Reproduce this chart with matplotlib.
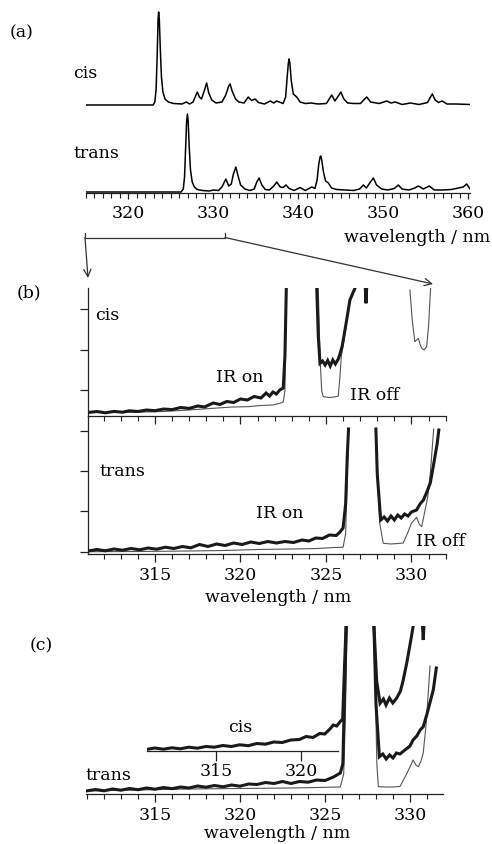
import numpy as np
import matplotlib
matplotlib.use("Agg")
import matplotlib.pyplot as plt
from matplotlib.ticker import MultipleLocator, FixedLocator

plt.rcParams['font.family'] = ['DejaVu Serif']
FS = 12.5
NAN = np.nan

# ---------------- data (wavelength nm, intensity arb.) ----------------
# (a) survey spectra
cis_a = [(315, 0), (322.9, 0), (323.1, 3), (323.25, 15), (323.38, 50), (323.48, 85),
         (323.55, 93), (323.63, 85), (323.75, 55), (323.88, 28), (324.05, 13), (324.3, 6),
         (324.7, 3), (325.3, 1.5), (326.3, 1), (326.8, 3), (327.2, 1), (327.6, 3),
         (327.9, 9), (328.1, 13), (328.35, 8), (328.6, 6), (328.95, 15), (329.2, 22),
         (329.45, 12), (329.8, 5), (330.3, 2), (331.0, 3), (331.45, 10), (331.8, 19),
         (331.96, 21), (332.2, 14), (332.6, 6), (333.0, 3), (333.6, 2), (334.1, 8),
         (334.5, 4.5), (334.9, 6), (335.3, 2.5), (336.0, 1), (336.7, 4), (337.1, 2),
         (337.45, 4), (337.75, 3), (338.2, 1.5), (338.5, 8), (338.7, 30), (338.82, 42),
         (338.9, 46), (339.0, 42), (339.15, 25), (339.4, 11), (339.8, 8), (340.2, 3),
         (340.8, 1.5), (341.5, 2), (342.3, 1), (343.3, 1.5), (343.7, 7), (343.93, 10),
         (344.3, 4), (344.7, 9), (345.0, 13), (345.35, 6), (345.8, 2), (346.5, 1.5),
         (347.3, 1.5), (347.8, 6), (348.05, 8), (348.5, 3), (349.5, 1.5), (350.4, 4),
         (350.9, 2), (351.4, 3), (352.2, 0.5), (353.2, 2), (354.2, 0.5), (355.2, 2.5),
         (355.55, 8), (355.76, 11), (356.1, 5), (356.5, 2.5), (356.9, 4), (357.5, 1),
         (358.5, 1), (360.2, 0.5)]
trans_a = [(315, 0), (326.2, 0), (326.45, 3), (326.6, 15), (326.73, 45), (326.84, 70),
           (326.94, 78), (327.03, 70), (327.15, 45), (327.3, 22), (327.5, 10), (327.75, 5),
           (328.1, 2.5), (328.7, 1.5), (329.5, 1), (330.0, 2), (330.6, 1.5), (331.0, 5),
           (331.46, 13), (331.8, 6), (332.1, 8), (332.35, 18), (332.64, 25), (332.9, 16),
           (333.2, 7), (333.7, 3), (334.3, 1.5), (334.8, 3), (335.1, 10), (335.38, 14),
           (335.7, 7), (336.1, 2.5), (336.6, 2), (337.1, 6), (337.46, 10), (337.85, 5),
           (338.2, 4.5), (338.55, 7), (338.9, 3.5), (339.5, 1.5), (340.2, 4.5), (340.8, 1.5),
           (341.58, 5), (341.95, 3.5), (342.2, 12), (342.4, 28), (342.55, 35), (342.64, 36),
           (342.75, 32), (342.95, 20), (343.2, 11), (343.53, 9), (343.9, 4), (344.5, 2.5),
           (345.5, 2), (346.5, 1.5), (347.2, 3), (347.65, 7), (348.0, 4), (348.4, 9),
           (348.82, 14), (349.2, 7), (349.8, 3), (350.5, 2), (351.3, 3.5), (351.76, 7),
           (352.2, 3), (353.0, 2), (353.7, 4), (354.12, 6), (354.7, 3), (355.41, 6),
           (356.0, 2), (357.0, 2), (358.0, 2.5), (359.4, 5), (359.81, 8), (360.2, 3)]
CIS_OFFSET_A = 87

# (b) cis, IR off / IR on
cis_b_off = [(311.1, 3.5), (312.5, 3.5), (314, 3.8), (315.5, 4.5), (317, 6), (318.4, 7.7),
             (319.5, 9), (320.4, 9.3), (321.2, 10.5), (321.9, 11), (322.3, 12.7), (322.5, 14),
             (322.6, 25), (322.68, 128), (NAN, NAN),
             (324.55, 128), (324.65, 60), (324.75, 25), (324.84, 19.3), (325.2, 18.5),
             (325.5, 19), (325.72, 20), (325.82, 40), (325.9, 60), (326.0, 70), (326.2, 92),
             (326.4, 114), (326.7, 128), (NAN, NAN),
             (329.91, 126), (330.05, 95), (330.2, 74.3), (330.4, 77.7), (330.5, 72),
             (330.6, 67.7), (330.73, 66), (330.89, 69.3), (331.0, 90), (331.12, 128)]
cis_b_on = [(311.1, 3.5), (311.6, 4.5), (312.1, 3.2), (312.6, 4.6), (313.1, 3.8), (313.5, 5.2),
            (314, 4.5), (314.5, 6), (315, 5.3), (315.5, 7), (316, 6.4), (316.5, 8.5),
            (317, 7.6), (317.5, 10), (317.9, 9), (318.4, 13), (318.8, 11.5), (319.2, 14.5),
            (319.6, 13.5), (320, 17), (320.4, 16), (320.8, 19.5), (321.2, 18), (321.5, 23),
            (321.7, 20), (321.9, 24), (322.1, 22), (322.3, 26), (322.5, 28), (322.6, 60),
            (322.68, 128), (NAN, NAN),
            (324.46, 128), (324.55, 80), (324.65, 52.7), (324.8, 55), (324.95, 51),
            (325.1, 55.5), (325.25, 50), (325.4, 56), (325.55, 52), (325.72, 57),
            (325.82, 62), (325.95, 70), (326.01, 76), (326.2, 95), (326.4, 116),
            (326.7, 128), (NAN, NAN), (327.3, 128), (327.34, 112.7), (327.38, 128)]

# (b) trans, IR off / IR on
trans_b_off = [(311.1, 2.3), (314, 2.5), (317, 3), (319, 3.5), (321, 4.5), (323, 5),
               (324.5, 5.5), (325.5, 6.5), (326.0, 6.7), (326.15, 20), (326.25, 80),
               (326.32, 125), (NAN, NAN),
               (327.92, 125), (328.0, 80), (328.15, 30), (328.35, 10.7), (328.8, 10),
               (329.2, 10.5), (329.52, 11), (329.8, 22), (330.0, 30.7), (330.3, 36.7),
               (330.45, 30), (330.6, 27.3), (330.75, 40), (330.95, 57), (331.1, 80),
               (331.3, 125)]
trans_b_on = [(311.1, 3), (311.6, 4.5), (312.1, 3.2), (312.6, 5), (313.1, 3.8), (313.6, 5.5),
              (314.1, 4.2), (314.6, 6), (315.1, 4.8), (315.6, 6.8), (316.1, 5.5), (316.6, 7.5),
              (317.1, 6.2), (317.6, 9.5), (318.1, 7.5), (318.6, 10), (319.1, 8.5),
              (319.6, 11), (320.1, 9.5), (320.6, 12), (321.1, 10.5), (321.6, 12.5),
              (322.1, 11), (322.6, 12.5), (323.1, 11.5), (323.6, 14), (324.0, 13),
              (324.4, 16), (324.8, 15.5), (325.2, 19), (325.6, 18.5), (325.82, 22),
              (326.0, 26), (326.15, 50), (326.25, 100), (326.32, 125), (NAN, NAN),
              (327.92, 125), (328.0, 80), (328.2, 34), (328.4, 37), (328.6, 33), (328.8, 38),
              (329.0, 34), (329.2, 39), (329.4, 36), (329.6, 40), (329.8, 38), (330.0, 42),
              (330.3, 44), (330.5, 50), (330.7, 54), (330.9, 62), (331.1, 71), (331.3, 90),
              (331.5, 110), (331.6, 124)]

# (c) trans IR off / IR on, and cis IR on (own shifted axis)
trans_c_off = [(310.94, 3), (314, 4), (317, 5), (320, 5.5), (323, 6), (324.5, 6.5),
               (325.9, 7), (326.1, 20), (326.2, 80), (326.3, 168), (NAN, NAN),
               (327.88, 168), (327.98, 90), (328.05, 30), (328.14, 7.3), (328.6, 7),
               (329.0, 7), (329.41, 7.5), (329.8, 20), (330.1, 30.7), (330.18, 34),
               (330.35, 29), (330.49, 27.3), (330.65, 33), (330.78, 41), (330.95, 70),
               (331.18, 128)]
trans_c_on = [(310.94, 3), (311.5, 4.5), (312, 3.2), (312.5, 5), (313, 3.8), (313.5, 5.5),
              (314, 4.3), (314.5, 6), (315, 4.8), (315.5, 6.5), (316, 5.3), (316.5, 7),
              (317, 6), (317.5, 8), (318, 6.8), (318.5, 8.5), (319, 7.2), (319.5, 9),
              (320, 7.8), (320.5, 10), (321, 9.5), (321.5, 11.5), (322, 10.5), (322.5, 12.5),
              (323, 10.5), (323.5, 12.5), (324, 11.8), (324.5, 14), (325, 13.5), (325.5, 17),
              (325.9, 21), (326.05, 30), (326.15, 100), (326.25, 168), (NAN, NAN),
              (327.88, 168), (328.0, 90), (328.2, 37.3), (328.4, 40), (328.6, 35),
              (328.8, 39), (329.0, 36), (329.2, 41), (329.41, 40), (329.7, 44), (330.0, 48),
              (330.18, 54), (330.4, 58), (330.6, 64), (330.78, 67.3), (331.0, 80),
              (331.37, 104), (331.55, 126)]
cis_c_on = [(310.94, 1.7), (311.4, 3), (311.9, 1.8), (312.4, 3.2), (312.9, 2.2), (313.4, 3.8),
            (313.9, 2.8), (314.4, 4.5), (314.9, 3.8), (315.4, 5.5), (315.9, 4.5), (316.4, 6.2),
            (316.9, 5.3), (317.4, 7.5), (317.9, 6.8), (318.4, 9), (318.9, 8.5), (319.4, 11),
            (319.9, 11.5), (320.3, 14.5), (320.7, 13.5), (321.1, 17.5), (321.4, 17),
            (321.7, 22), (321.9, 26), (322.1, 25), (322.3, 29.3), (322.45, 32), (322.55, 80),
            (322.65, 125), (NAN, NAN),
            (324.29, 125), (324.45, 70), (324.65, 47.7), (324.85, 52), (325.0, 46),
            (325.2, 53), (325.4, 48), (325.63, 53), (325.85, 60), (326.0, 70), (326.22, 88),
            (326.45, 110), (326.6, 125), (NAN, NAN), (327.15, 125), (327.19, 111),
            (327.23, 125)]

ticks_a = [320, 330, 340, 350, 360]
ticks_bc = [315, 320, 325, 330]
ticks_c_cis = [315, 320]

# ---------------- figure ----------------
W, H = 492, 844
fig = plt.figure(figsize=(W / 100, H / 100), dpi=100)


def px_axes(l, t, r, b):
    return fig.add_axes([l / W, 1 - b / H, (r - l) / W, (b - t) / H])


def xy(d):
    a = np.array(d, dtype=float)
    return a[:, 0], a[:, 1]


def style(ax, left=False, labels=True):
    for s in ['top', 'right']:
        ax.spines[s].set_visible(False)
    ax.spines['left'].set_visible(left)
    for s in ['left', 'bottom']:
        ax.spines[s].set_linewidth(0.9)
        ax.spines[s].set_color('#222222')
    ax.patch.set_visible(False)
    ax.tick_params(axis='x', which='major', direction='out', length=5.5, width=0.9,
                   pad=4, labelsize=FS, colors='#222222', labelcolor='black',
                   labelbottom=labels)
    ax.tick_params(axis='x', which='minor', direction='out', length=3.5, width=0.8,
                   colors='#222222')
    if left:
        ax.tick_params(axis='y', which='major', direction='out', length=5.5, width=0.9,
                       labelleft=False, colors='#222222')
    else:
        ax.set_yticks([])


ON = dict(color='#1a1a1a', lw=2.2, solid_joinstyle='miter')
OFF = dict(color='#555555', lw=0.8)

# (a)
axa = px_axes(86, 10, 470, 193)
style(axa)
x, y = xy(cis_a)
axa.plot(x, y + CIS_OFFSET_A, color='black', lw=1.1)
x, y = xy(trans_a)
axa.plot(x, y, color='black', lw=1.1)
axa.set_xlim(315, 360.2)
axa.set_ylim(-1, 182)
axa.xaxis.set_major_locator(FixedLocator(ticks_a))
axa.xaxis.set_minor_locator(MultipleLocator(1))
axa.tick_params(axis='x', which='major', length=4.5)
axa.tick_params(axis='x', which='minor', length=3.5)

# (b) cis
axbc = px_axes(88.3, 288, 446, 416)
style(axbc, left=True, labels=False)
x, y = xy(cis_b_off)
axbc.plot(x, y, **OFF)
x, y = xy(cis_b_on)
axbc.plot(x, y, **ON)
axbc.set_xlim(311.1, 332.02)
axbc.set_ylim(0, 128)
axbc.set_yticks([26, 66.3, 106.7])
axbc.xaxis.set_major_locator(FixedLocator(ticks_bc))
axbc.xaxis.set_minor_locator(MultipleLocator(1))

# (b) trans
axbt = px_axes(88.3, 416, 446, 554)
style(axbt, left=True)
x, y = xy(trans_b_off)
axbt.plot(x, y, **OFF)
x, y = xy(trans_b_on)
axbt.plot(x, y, **ON)
axbt.set_xlim(311.1, 332.02)
axbt.set_ylim(0, 138)
axbt.set_yticks([2.5, 43, 83, 123.3])
axbt.xaxis.set_major_locator(FixedLocator(ticks_bc))
axbt.xaxis.set_minor_locator(MultipleLocator(1))

# (c) trans
axct = px_axes(86, 626, 443.3, 794)
style(axct)
x, y = xy(trans_c_off)
axct.plot(x, y, **OFF)
x, y = xy(trans_c_on)
axct.plot(x, y, **ON)
axct.set_xlim(310.94, 331.96)
axct.set_ylim(0, 168)
axct.xaxis.set_major_locator(FixedLocator(ticks_bc))
axct.xaxis.set_minor_locator(MultipleLocator(1))

# (c) cis, shifted axis
axcc = px_axes(147, 626, 443.3, 751)
style(axcc)
x, y = xy(cis_c_on)
axcc.plot(x, y, **ON)
axcc.set_xlim(310.94, 328.37)
axcc.set_ylim(0, 125)
axcc.spines['bottom'].set_bounds(310.94, 322.18)
axcc.xaxis.set_major_locator(FixedLocator(ticks_c_cis))
axcc.tick_params(axis='x', which='major', length=7, pad=2)

# ---------------- overlay: labels, bracket, arrows ----------------
ov = fig.add_axes([0, 0, 1, 1])
ov.set_xlim(0, W)
ov.set_ylim(H, 0)
ov.axis('off')
ov.patch.set_visible(False)


def t(xp, yp, s, ha='left'):
    ov.text(xp, yp, s, ha=ha, va='center', fontsize=FS)


t(10, 33, '(a)')
t(73, 74, 'cis')
t(73, 154, 'trans')
t(490, 238, 'wavelength / nm', ha='right')
t(17, 293, '(b)')
t(95, 315, 'cis')
t(216, 377, 'IR on')
t(350, 395, 'IR off')
t(99, 471, 'trans')
t(256, 514, 'IR on')
t(416, 541, 'IR off')
t(278, 598, 'wavelength / nm', ha='center')
t(30, 646, '(c)')
t(228, 728, 'cis')
t(85, 775, 'trans')
t(277, 833, 'wavelength / nm', ha='center')

ov.plot([85, 85, 225, 225], [233, 237.5, 237.5, 233], color='#333333', lw=0.9)
ov.annotate('', xy=(88, 278), xytext=(85, 237.5),
            arrowprops=dict(arrowstyle='->', lw=0.9, color='#333333', mutation_scale=13,
                            shrinkA=0, shrinkB=0))
ov.annotate('', xy=(433, 284), xytext=(225, 237.5),
            arrowprops=dict(arrowstyle='->', lw=0.9, color='#333333', mutation_scale=13,
                            shrinkA=0, shrinkB=0))

fig.savefig('out.png', dpi=100)
